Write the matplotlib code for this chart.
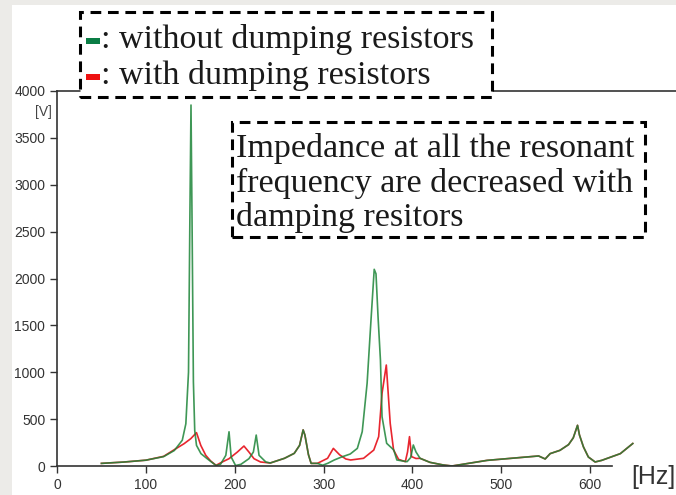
import matplotlib
matplotlib.use("Agg")
import matplotlib.pyplot as plt
from matplotlib.patches import Rectangle

# frequency [Hz] / voltage [V]
freq_without = [50, 75, 100, 120, 132, 141, 145, 148, 149.5, 150.8, 152, 153.5, 155, 157,
                162, 169, 179, 184, 190, 193.6, 196, 201, 207, 216, 221, 224.2, 227.4,
                235, 240, 256, 267, 273, 277, 279, 283, 286, 293, 299, 305, 312, 320, 330,
                338, 343.5, 349, 353, 357, 359, 361.3, 364, 365.8, 371, 379, 382.5, 394,
                398, 401, 404, 408.6, 419.7, 434.6, 444.6, 484, 542, 549.4, 555, 566,
                575.7, 581, 585.8, 588, 592.5, 598, 605.6, 613, 634, 648]
volt_without = [28, 42, 62, 100, 165, 275, 450, 1000, 2600, 3850, 2600, 900, 380, 220,
                132, 78, 5, 18, 114, 365, 96, 5, 18, 78, 149, 330, 114,
                43, 32, 82, 135, 220, 385, 330, 120, 28, 28, 8, 30, 64, 95, 128,
                188, 366, 882, 1500, 2098, 2050, 1593, 1130, 526, 242, 171, 64, 46,
                90, 224, 150, 82, 39, 11, 0, 60, 107, 75, 132, 167,
                228, 300, 434, 330, 203, 96, 43, 60, 132, 240]

freq_with = [50, 75, 100, 120, 132, 143, 150.6, 157, 161.8, 167.4, 173, 179, 186, 193.6,
             203, 210.4, 216, 221.7, 229, 240, 256, 267, 273, 277, 279, 283, 286, 293,
             304.5, 311, 318, 325, 330.5, 345, 356.5, 362, 365.8, 370.6, 375, 378.8,
             384.4, 392, 394.5, 396.7, 399, 404, 408.6, 419.7, 434.6, 444.6, 484, 542,
             549.4, 555, 566, 575.7, 581, 585.8, 588, 592.5, 598, 605.6, 613, 634, 648]
volt_with = [28, 42, 62, 103, 174, 238, 292, 356, 220, 114, 53, 7, 43, 78,
             149, 213, 149, 78, 43, 32, 82, 135, 220, 385, 330, 120, 28, 28,
             82, 188, 120, 75, 64, 82, 170, 313, 775, 1077, 455, 170,
             71, 46, 150, 313, 100, 80, 82, 39, 11, 0, 60, 107,
             75, 132, 167, 228, 300, 434, 330, 203, 96, 43, 60, 132, 240]

xticks = [0, 100, 200, 300, 400, 500, 600]
yticks = [0, 500, 1000, 1500, 2000, 2500, 3000, 3500, 4000]

W, H = 676, 495
fig = plt.figure(figsize=(W / 100, H / 100), dpi=100)
fig.patch.set_facecolor("white")


def px(x, y):
    # pixel (from top-left) -> figure fraction
    return x / W, 1 - y / H


# light grey frame of the screenshot
fig.add_artist(Rectangle((0, 0), 12 / W, 1, transform=fig.transFigure,
                         facecolor="#ecebe8", edgecolor="none", zorder=-1))
fig.add_artist(Rectangle((0, 1 - 5 / H), 1, 5 / H, transform=fig.transFigure,
                         facecolor="#ecebe8", edgecolor="none", zorder=-1))

ax = fig.add_axes([57 / W, 29 / H, 1 - 57 / W, (466 - 91) / H])
ax.set_facecolor("none")
ax.plot(freq_with, volt_with, color="#e8262f", lw=1.2)
ax.plot(freq_without, volt_without, color="#1d8538", lw=1.2, alpha=0.85)

ax.set_xlim(0, (W - 56) / 0.89)
ax.set_ylim(0, 4000)
ax.set_xticks(xticks)
ax.set_yticks(yticks)
ax.spines["right"].set_visible(False)
ax.spines["bottom"].set_bounds(0, 625)
for s in ["left", "bottom", "top"]:
    ax.spines[s].set_color("#333333")
    ax.spines[s].set_linewidth(1.2)
ax.tick_params(direction="out", length=5, width=1, color="#333333",
               labelsize=10, labelcolor="#333333")
for lab in ax.get_xticklabels() + ax.get_yticklabels():
    lab.set_fontfamily("Liberation Sans")

fig.text(*px(43, 112), "[V]", ha="center", va="center", fontsize=10,
         color="#444444", family="Liberation Sans")
fig.text(*px(653, 477), "[Hz]", ha="center", va="center", fontsize=18,
         color="#333333", family="Liberation Sans")


def dashed_box(x0, y0, x1, y1):
    x, y = px(x0, y1)
    fig.add_artist(Rectangle((x, y), (x1 - x0) / W, (y1 - y0) / H,
                             transform=fig.transFigure, facecolor="white",
                             edgecolor="black", lw=2.2, linestyle=(0, (3.5, 2.2)),
                             zorder=3))


# legend box
dashed_box(80, 12, 492, 97)
fig.add_artist(Rectangle(px(86, 44), 14 / W, 6 / H, transform=fig.transFigure,
                         facecolor="#0a7d45", edgecolor="none", zorder=4))
fig.add_artist(Rectangle(px(86, 80), 14 / W, 6 / H, transform=fig.transFigure,
                         facecolor="#ee1111", edgecolor="none", zorder=4))
serif = dict(family="Liberation Serif", fontsize=24.5, color="#1a1a1a",
             va="baseline", ha="left", zorder=5)
fig.text(*px(101, 48), ": without dumping resistors", **serif)
fig.text(*px(101, 84), ": with dumping resistors", **serif)

# annotation box
dashed_box(232, 122, 645, 237)
fig.text(*px(236, 157), "Impedance at all the resonant", **serif)
fig.text(*px(236, 192), "frequency are decreased with", **serif)
fig.text(*px(236, 226), "damping resitors", **serif)

fig.savefig("out.png", dpi=100)
